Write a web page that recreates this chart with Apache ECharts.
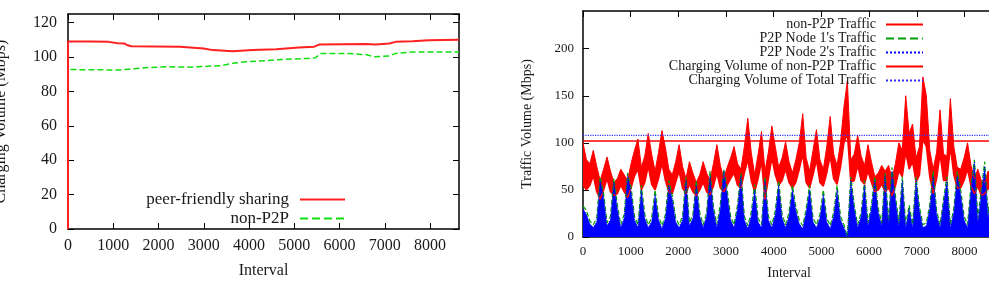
<!DOCTYPE html>
<html>
<head>
<meta charset="utf-8">
<script src="https://cdn.jsdelivr.net/npm/echarts@6/dist/echarts.min.js"></script>
<style>
  html, body { margin: 0; padding: 0; background: #fff; }
  #chart { width: 989px; height: 290px; }
</style>
</head>
<body>
<div id="chart"></div>
<script>
// left plot: charging volume over the month
const sharingX = [0, 1, 500, 900, 1100, 1250, 1320, 1400, 2470, 3000, 3200, 3640, 4080, 4600, 5100, 5440, 5550, 6580, 6800, 7100, 7240, 7610, 7970, 8640];
const sharingY = [0, 109, 109, 108.8, 108, 107.8, 106.8, 106.2, 106, 105, 104, 103.3, 104, 104.5, 105.5, 106, 107.2, 107.6, 107.2, 107.8, 108.8, 109.2, 109.8, 110];
const nonP2PX = [0, 1, 300, 900, 1100, 1400, 1700, 2170, 2700, 3000, 3380, 3640, 3930, 4380, 4740, 5330, 5470, 5590, 6140, 6580, 6770, 7100, 7240, 7610, 8640];
const nonP2PY = [0, 92.8, 92.6, 92.5, 92.4, 93, 93.8, 94.3, 94.1, 94.5, 95, 96.3, 97.3, 97.9, 98.6, 99.2, 99.6, 102, 102.1, 101.4, 100.2, 100.6, 102.1, 102.9, 102.9];

// right plot: traffic, one sample every 72 intervals (red is a band lo..hi)
const sampleStep = 72;
const trafficRedLo = [55,50,55,65,48,40,50,62,48,44, 46,55,48,42,52,65,72,50,58,75,
  56,50,62,78,60,48,46,58,70,52, 46,56,48,44,50,58,48,45,54,68,
  52,48,55,62,68,55,52,68,82,60, 48,62,80,40,62,84,66,55,60,72,
  58,52,58,72,88,58,52,66,82,58, 54,68,86,62,56,74,100,110,58,60,
  76,60,56,70,58,48,50,56,48,52, 44,54,70,64,90,72,80,58,66,104,
  96,64,46,62,88,60,60,96,66,52, 52,60,72,54,46,54,44,46,52,48, 50];
const trafficRedHi = [100,82,78,92,75,60,72,85,70,58, 62,72,66,60,78,92,104,74,86,110,
  88,70,90,113,95,72,66,80,98,75, 62,80,68,58,66,80,68,60,78,98,
  76,62,74,84,96,78,72,96,126,90, 66,88,112,70,90,118,96,74,84,101,
  80,68,82,100,131,84,70,92,114,82, 72,96,128,88,76,100,138,166,82,88,
  108,86,76,98,80,64,68,76,70,76, 62,78,100,92,150,110,120,84,96,170,
  150,92,72,90,135,88,86,147,96,74, 72,84,100,76,62,72,60,58,70,66, 64];
const node1Traffic = [33,28,17,13,20,64,46,15,22,62, 34,13,24,68,53,22,13,55,24,13,
  20,50,22,12,24,60,44,20,13,22, 64,15,24,60,26,13,26,70,32,13,
  35,72,50,22,13,34,68,22,12,26, 56,20,13,64,22,13,28,60,24,13,
  26,55,32,18,12,30,55,20,13,24, 50,20,12,26,55,22,13,0,64,34,
  13,26,60,15,34,64,30,15,68,17, 74,44,15,64,13,34,13,64,32,13,
  15,34,70,28,13,40,64,13,30,70, 50,22,13,55,82,20,50,80,24,60, 74];
const node2Traffic = [30,24,14,10,16,60,42,12,18,58, 30,10,20,65,48,18,10,50,20,10,
  16,45,18,9,20,55,40,16,10,18, 60,12,20,55,22,10,22,65,28,10,
  30,70,45,18,10,30,65,18,9,22, 50,16,10,60,18,10,24,55,20,10,
  22,50,28,14,9,26,50,16,10,20, 45,16,9,22,50,18,10,0,60,30,
  10,22,55,12,30,60,26,12,65,14, 70,40,12,60,10,30,10,60,28,10,
  12,30,65,24,10,36,60,10,26,65, 45,18,10,50,80,16,45,75,20,55, 70];
const chargingNonP2P = 102;
const chargingTotal = 108;
const intervalEnd = 8640;

const serif = "'Liberation Serif', 'Times New Roman', serif";
const ink = '#1a1a1a';

function pairs(xs, ys) {
  return xs.map((x, i) => [x, ys[i]]);
}

function frameAxis(gridIndex, position, min, max, interval, fontSize, margin, showLabel) {
  return {
    type: 'value',
    gridIndex: gridIndex,
    position: position,
    min: min,
    max: max,
    interval: interval,
    axisLine: { show: true, onZero: false, lineStyle: { color: '#000', width: 1.5 } },
    axisTick: { show: true, inside: true, length: 6, lineStyle: { color: '#000' } },
    axisLabel: {
      show: showLabel, fontSize: fontSize, color: ink, fontFamily: serif, margin: margin,
      showMaxLabel: false, formatter: (v) => String(v)
    },
    splitLine: { show: false }
  };
}

const chart = echarts.init(document.getElementById('chart'));

const xLeft = frameAxis(0, 'bottom', 0, intervalEnd, 1000, 16, 9, true);
Object.assign(xLeft, { name: 'Interval', nameLocation: 'middle', nameGap: 34,
  nameTextStyle: { fontSize: 16, color: ink, fontFamily: serif } });
const yLeft = frameAxis(0, 'left', 0, 125, 20, 16, 11, true);
Object.assign(yLeft, { name: 'Charging Volume (Mbps)', nameLocation: 'middle', nameGap: 59, nameRotate: 90,
  nameTextStyle: { fontSize: 16, color: ink, fontFamily: serif } });

const xRight = frameAxis(1, 'bottom', 0, intervalEnd, 1000, 13, 8, true);
Object.assign(xRight, { name: 'Interval', nameLocation: 'middle', nameGap: 29,
  nameTextStyle: { fontSize: 14, color: ink, fontFamily: serif } });
const yRight = frameAxis(1, 'left', 0, 240, 50, 13, 9, true);
Object.assign(yRight, { name: 'Traffic Volume (Mbps)', nameLocation: 'middle', nameGap: 49, nameRotate: 90,
  nameTextStyle: { fontSize: 14, color: ink, fontFamily: serif } });

// hidden sample axis for the right plot, so the red band can be stacked
const sampleAxis = {
  type: 'category', gridIndex: 1, show: false, boundaryGap: false,
  data: trafficRedLo.map((v, i) => String(i * sampleStep))
};

const option = {
  animation: false,
  backgroundColor: '#fff',
  grid: [
    { left: 68, top: 14, width: 391, height: 215, outerBoundsMode: 'none' },
    { left: 583, top: 11, width: 412, height: 226, outerBoundsMode: 'none' }
  ],
  xAxis: [
    xLeft,
    frameAxis(0, 'top', 0, intervalEnd, 1000, 16, 9, false),
    xRight,
    frameAxis(1, 'top', 0, intervalEnd, 1000, 13, 8, false),
    sampleAxis
  ],
  yAxis: [
    yLeft,
    frameAxis(0, 'right', 0, 125, 20, 16, 11, false),
    yRight,
    frameAxis(1, 'right', 0, 240, 50, 13, 9, false)
  ],
  legend: [
    {
      orient: 'vertical', align: 'right', right: 643, top: 191, padding: 0,
      itemWidth: 45, itemHeight: 15, itemGap: 2,
      itemStyle: { opacity: 0 },
      textStyle: { fontSize: 17, color: ink, fontFamily: serif, padding: [0, 6, 0, 0] },
      data: ['peer-friendly sharing', 'non-P2P']
    },
    {
      orient: 'vertical', align: 'right', right: 65, top: 17.5, padding: 0,
      itemWidth: 37, itemHeight: 14, itemGap: 0,
      itemStyle: { opacity: 0 },
      textStyle: { fontSize: 14, lineHeight: 14, color: ink, fontFamily: serif, padding: [0, 5, 0, 0] },
      data: [
        'non-P2P Traffic',
        "P2P Node 1's Traffic",
        "P2P Node 2's Traffic",
        'Charging Volume of non-P2P Traffic',
        'Charging Volume of Total Traffic'
      ]
    }
  ],
  series: [
    {
      name: 'peer-friendly sharing', type: 'line', xAxisIndex: 0, yAxisIndex: 0,
      symbol: 'none', lineStyle: { color: '#ff2020', width: 2 }, itemStyle: { color: '#ff2020' },
      data: pairs(sharingX, sharingY), z: 3
    },
    {
      name: 'non-P2P', type: 'line', xAxisIndex: 0, yAxisIndex: 0,
      symbol: 'none', lineStyle: { color: '#10e010', width: 1.5, type: 'dashed' }, itemStyle: { color: '#10e010' },
      data: pairs(nonP2PX, nonP2PY), z: 2
    },
    {
      // lower edge of the non-P2P band
      name: 'non-P2P Traffic', type: 'line', xAxisIndex: 4, yAxisIndex: 2, stack: 'red',
      symbol: 'none', lineStyle: { color: '#ff0000', width: 1.5 }, itemStyle: { color: '#ff0000' },
      data: trafficRedLo
    },
    {
      name: 'non-P2P Traffic', type: 'line', xAxisIndex: 4, yAxisIndex: 2, stack: 'red',
      symbol: 'none', lineStyle: { color: '#ff0000', width: 1 }, itemStyle: { color: '#ff0000' },
      areaStyle: { color: '#ff0000', opacity: 1 },
      data: trafficRedHi.map((v, i) => v - trafficRedLo[i])
    },
    {
      name: "P2P Node 1's Traffic", type: 'line', xAxisIndex: 4, yAxisIndex: 2,
      symbol: 'none', lineStyle: { color: '#00a000', width: 1.2, type: 'dashed' }, itemStyle: { color: '#00c000' },
      data: node1Traffic
    },
    {
      name: "P2P Node 2's Traffic", type: 'line', xAxisIndex: 4, yAxisIndex: 2,
      symbol: 'none', lineStyle: { color: '#0000ff', width: 1, type: 'dotted' }, itemStyle: { color: '#0000ff' },
      areaStyle: { color: '#0000ff', opacity: 1 },
      data: node2Traffic
    },
    {
      name: 'Charging Volume of non-P2P Traffic', type: 'line', xAxisIndex: 2, yAxisIndex: 2,
      symbol: 'none', lineStyle: { color: '#ff0000', width: 1.5 }, itemStyle: { color: '#ff0000' },
      data: [[0, chargingNonP2P], [intervalEnd, chargingNonP2P]]
    },
    {
      name: 'Charging Volume of Total Traffic', type: 'line', xAxisIndex: 2, yAxisIndex: 2,
      symbol: 'none', lineStyle: { color: '#3030ff', width: 1.2, type: 'dotted' }, itemStyle: { color: '#3030ff' },
      data: [[0, chargingTotal], [intervalEnd, chargingTotal]]
    }
  ]
};

chart.setOption(option);
</script>
</body>
</html>
